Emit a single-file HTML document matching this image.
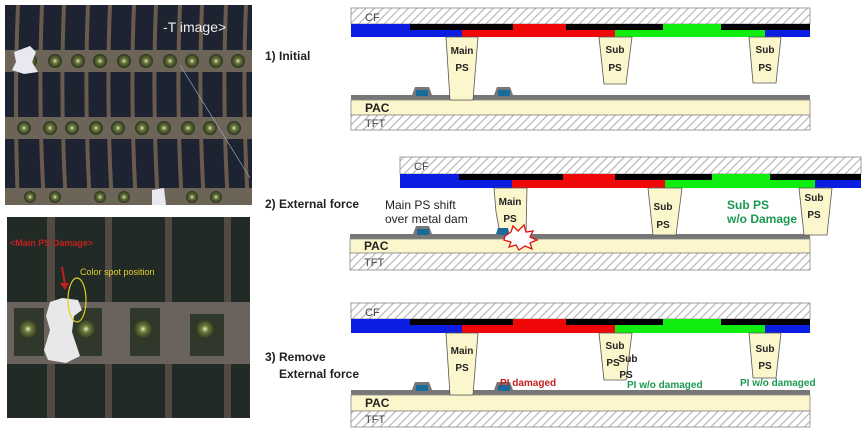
<!DOCTYPE html>
<html><head><meta charset="utf-8"><style>
html,body{margin:0;padding:0;background:#fff;}
svg{display:block;}
text{font-family:"Liberation Sans","DejaVu Sans",sans-serif;}
</style></head><body>
<svg width="865" height="447" viewBox="0 0 865 447" xmlns="http://www.w3.org/2000/svg">
<defs>
<pattern id="h" width="6" height="6" patternUnits="userSpaceOnUse" patternTransform="rotate(45)">
<rect width="6" height="6" fill="#fff"/><rect width="1.2" height="6" fill="#b8b8b8"/>
</pattern>
<radialGradient id="gd" cx="50%" cy="50%" r="50%"><stop offset="0" stop-color="#e8e8c0"/><stop offset="0.35" stop-color="#6a7a3a"/><stop offset="1" stop-color="#2a3020"/></radialGradient>
</defs>

<!-- top photo -->
<rect x="5" y="5" width="247" height="200" fill="#1d2330"/>
<g stroke="#6a5c4c" stroke-width="4" fill="none">
<path d="M18 5 Q14 100 18 205"/><path d="M42 5 Q38 100 44 205"/><path d="M64 5 Q60 100 66 205"/><path d="M88 5 Q84 100 90 205"/><path d="M110 5 Q106 100 112 205"/><path d="M134 5 Q130 100 136 205"/><path d="M156 5 Q152 100 158 205"/><path d="M180 5 Q176 100 182 205"/><path d="M202 5 Q198 100 204 205"/><path d="M226 5 Q222 100 228 205"/><path d="M246 5 Q242 100 248 205"/>
</g>
<g fill="#6d6458">
<rect x="5" y="50" width="247" height="22"/><rect x="5" y="117" width="247" height="22"/><rect x="5" y="188" width="247" height="17"/>
</g>
<g fill="url(#gd)">
<circle cx="30" cy="61" r="7"/><circle cx="55" cy="61" r="7"/><circle cx="78" cy="61" r="7"/><circle cx="100" cy="61" r="7"/><circle cx="124" cy="61" r="7"/><circle cx="146" cy="61" r="7"/><circle cx="170" cy="61" r="7"/><circle cx="192" cy="61" r="7"/><circle cx="216" cy="61" r="7"/><circle cx="238" cy="61" r="7"/>
<circle cx="24" cy="128" r="7"/><circle cx="50" cy="128" r="7"/><circle cx="72" cy="128" r="7"/><circle cx="96" cy="128" r="7"/><circle cx="118" cy="128" r="7"/><circle cx="142" cy="128" r="7"/><circle cx="164" cy="128" r="7"/><circle cx="188" cy="128" r="7"/><circle cx="210" cy="128" r="7"/><circle cx="234" cy="128" r="7"/>
<circle cx="30" cy="197" r="6"/><circle cx="55" cy="197" r="6"/><circle cx="100" cy="197" r="6"/><circle cx="124" cy="197" r="6"/><circle cx="192" cy="197" r="6"/><circle cx="216" cy="197" r="6"/>
</g>
<path d="M14 52 L30 46 L36 52 L32 62 L38 72 L24 74 L12 70 L16 62Z" fill="#e8e8f0"/>
<path d="M152 190 L164 188 L166 205 L152 205Z" fill="#e8e8f0"/>
<path d="M180 65 L250 178" stroke="#9ab" stroke-width="0.7"/>
<text x="163" y="32" fill="#eee" font-size="14">-T image&gt;</text>

<!-- bottom photo -->
<rect x="7" y="217" width="243" height="201" fill="#222a26"/>
<g fill="#514a42"><rect x="47" y="217" width="8" height="201"/><rect x="105" y="217" width="7" height="201"/><rect x="165" y="217" width="7" height="201"/><rect x="224" y="217" width="7" height="201"/></g>
<rect x="7" y="302" width="243" height="62" fill="#6a625c"/>
<g fill="#30382c"><rect x="14" y="308" width="30" height="48"/><rect x="72" y="308" width="30" height="48"/><rect x="130" y="308" width="30" height="48"/><rect x="190" y="314" width="34" height="42"/></g>
<g fill="url(#gd)"><circle cx="28" cy="329" r="10"/><circle cx="86" cy="329" r="10"/><circle cx="143" cy="329" r="10"/><circle cx="205" cy="329" r="10"/></g>
<path d="M50 302 L62 298 L78 300 L82 310 L74 316 L72 332 L80 356 L66 363 L48 360 L44 350 L50 330 L46 316Z" fill="#e8e8ea"/>
<ellipse cx="77" cy="300" rx="9" ry="22" fill="none" stroke="#e0d020" stroke-width="1.2"/>
<path d="M62 267 L65 285" stroke="#c02020" stroke-width="2"/><path d="M60 283 L65 290 L69 283Z" fill="#c02020"/>
<text x="10" y="246" fill="#c02020" font-size="9" font-weight="bold">&lt;Main PS Damage&gt;</text>
<text x="80" y="275" fill="#e0d030" font-size="9">Color spot position</text>

<!-- labels -->
<g font-size="12" font-weight="bold" fill="#222">
<text x="265" y="60">1) Initial</text>
<text x="265" y="208">2) External force</text>
<text x="265" y="361">3) Remove</text>
<text x="279" y="378">External force</text>
</g>

<!-- diagram 1 -->
<g>
<rect x="351" y="8" width="459" height="16" fill="url(#h)" stroke="#888" stroke-width="0.8"/>
<text x="365" y="21" font-size="11" fill="#444">CF</text>
<rect x="351" y="24" width="459" height="13" fill="#000"/>
<rect x="351" y="24" width="59" height="6" fill="#0a1de0"/><rect x="513" y="24" width="53" height="6" fill="#f00808"/><rect x="663" y="24" width="58" height="6" fill="#10ee10"/>
<rect x="351" y="30" width="111" height="7" fill="#0a1de0"/><rect x="462" y="30" width="153" height="7" fill="#f00808"/><rect x="615" y="30" width="150" height="7" fill="#10ee10"/><rect x="765" y="30" width="45" height="7" fill="#0a1de0"/>
<rect x="351" y="95" width="459" height="5" fill="#777"/>
<path d="M412 95 L415 87 L429 87 L432 95Z" fill="#777"/><rect x="416" y="90" width="12" height="6" fill="#1a6a9a"/>
<path d="M494 95 L497 87 L510 87 L513 95Z" fill="#777"/><rect x="498" y="90" width="12" height="6" fill="#1a6a9a"/>
<rect x="351" y="100" width="459" height="15" fill="#fcf6cc" stroke="#888" stroke-width="0.8"/>
<text x="365" y="112" font-size="12" font-weight="bold" fill="#222">PAC</text>
<rect x="351" y="115" width="459" height="15" fill="url(#h)" stroke="#888" stroke-width="0.8"/>
<text x="365" y="127" font-size="11" fill="#444">TFT</text>
<path d="M446 37 L478 37 L473 100 L450 100Z" fill="#fcf6cc" stroke="#555" stroke-width="0.8"/>
<path d="M599 37 L632 37 L626 84 L604 84Z" fill="#fcf6cc" stroke="#555" stroke-width="0.8"/>
<path d="M749 37 L781 37 L776 83 L753 83Z" fill="#fcf6cc" stroke="#555" stroke-width="0.8"/>
<g font-size="10" font-weight="bold" fill="#222" text-anchor="middle">
<text x="462" y="54">Main</text><text x="462" y="71">PS</text>
<text x="615" y="53">Sub</text><text x="615" y="71">PS</text>
<text x="765" y="53">Sub</text><text x="765" y="71">PS</text>
</g>
</g>

<!-- diagram 2 -->
<g>
<rect x="400" y="157" width="461" height="17" fill="url(#h)" stroke="#888" stroke-width="0.8"/>
<text x="414" y="170" font-size="11" fill="#444">CF</text>
<rect x="400" y="174" width="461" height="14" fill="#000"/>
<rect x="400" y="174" width="59" height="6" fill="#0a1de0"/><rect x="563" y="174" width="52" height="6" fill="#f00808"/><rect x="712" y="174" width="58" height="6" fill="#10ee10"/>
<rect x="400" y="180" width="112" height="8" fill="#0a1de0"/><rect x="512" y="180" width="153" height="8" fill="#f00808"/><rect x="665" y="180" width="150" height="8" fill="#10ee10"/><rect x="815" y="180" width="46" height="8" fill="#0a1de0"/>
<rect x="350" y="234" width="460" height="5" fill="#777"/>
<path d="M413 234 L416 226 L429 226 L432 234Z" fill="#777"/><rect x="417" y="229" width="12" height="6" fill="#1a6a9a"/>
<rect x="350" y="239" width="460" height="14" fill="#fcf6cc" stroke="#888" stroke-width="0.8"/>
<text x="364" y="250" font-size="12" font-weight="bold" fill="#222">PAC</text>
<rect x="350" y="253" width="460" height="17" fill="url(#h)" stroke="#888" stroke-width="0.8"/>
<text x="364" y="266" font-size="11" fill="#444">TFT</text>
<path d="M494 188 L527 188 L526 234 L500 234 L496 212Z" fill="#fcf6cc" stroke="#555" stroke-width="0.8"/>
<path d="M496 234 L498 228 L508 228 L510 236Z" fill="#1a6a9a"/>
<path d="M648 188 L682 188 L676 235 L653 235Z" fill="#fcf6cc" stroke="#555" stroke-width="0.8"/>
<path d="M799 188 L832 188 L827 235 L804 235Z" fill="#fcf6cc" stroke="#555" stroke-width="0.8"/>
<path d="M505 236 L511 232 L513 226 L518 231 L524 225 L526 232 L533 231 L530 237 L537 240 L530 243 L532 249 L525 246 L519 250 L516 245 L509 247 L511 242 L504 240Z" fill="#fff" stroke="#e01010" stroke-width="1.3"/>
<g font-size="10" font-weight="bold" fill="#222" text-anchor="middle">
<text x="510" y="205">Main</text><text x="510" y="222">PS</text>
<text x="663" y="210">Sub</text><text x="663" y="228">PS</text>
<text x="814" y="201">Sub</text><text x="814" y="218">PS</text>
</g>
<text x="385" y="209" font-size="12" fill="#222">Main PS shift</text>
<text x="385" y="223" font-size="12" fill="#222">over metal dam</text>
<text x="727" y="209" font-size="12" font-weight="bold" fill="#1a9a50">Sub PS</text>
<text x="727" y="223" font-size="12" font-weight="bold" fill="#1a9a50">w/o Damage</text>
</g>

<!-- diagram 3 -->
<g>
<rect x="351" y="303" width="459" height="16" fill="url(#h)" stroke="#888" stroke-width="0.8"/>
<text x="365" y="316" font-size="11" fill="#444">CF</text>
<rect x="351" y="319" width="459" height="14" fill="#000"/>
<rect x="351" y="319" width="59" height="6" fill="#0a1de0"/><rect x="513" y="319" width="53" height="6" fill="#f00808"/><rect x="663" y="319" width="58" height="6" fill="#10ee10"/>
<rect x="351" y="325" width="111" height="8" fill="#0a1de0"/><rect x="462" y="325" width="153" height="8" fill="#f00808"/><rect x="615" y="325" width="150" height="8" fill="#10ee10"/><rect x="765" y="325" width="45" height="8" fill="#0a1de0"/>
<rect x="351" y="390" width="459" height="5" fill="#777"/>
<path d="M412 390 L415 382 L429 382 L432 390Z" fill="#777"/><rect x="416" y="385" width="12" height="6" fill="#1a6a9a"/>
<path d="M494 390 L497 382 L510 382 L513 390Z" fill="#777"/><rect x="498" y="385" width="12" height="6" fill="#1a6a9a"/>
<rect x="351" y="395" width="459" height="16" fill="#fcf6cc" stroke="#888" stroke-width="0.8"/>
<text x="365" y="407" font-size="12" font-weight="bold" fill="#222">PAC</text>
<rect x="351" y="411" width="459" height="16" fill="url(#h)" stroke="#888" stroke-width="0.8"/>
<text x="365" y="423" font-size="11" fill="#444">TFT</text>
<path d="M446 333 L478 333 L473 395 L450 395Z" fill="#fcf6cc" stroke="#555" stroke-width="0.8"/>
<path d="M599 333 L632 333 L626 380 L604 380Z" fill="#fcf6cc" stroke="#555" stroke-width="0.8"/>
<path d="M749 333 L781 333 L776 378 L753 378Z" fill="#fcf6cc" stroke="#555" stroke-width="0.8"/>
<g font-size="10" font-weight="bold" fill="#222" text-anchor="middle">
<text x="462" y="354">Main</text><text x="462" y="371">PS</text>
<text x="615" y="349">Sub</text><text x="613" y="366">PS</text><text x="628" y="362">Sub</text><text x="626" y="378">PS</text>
<text x="765" y="352">Sub</text><text x="765" y="369">PS</text>
</g>
<text x="500" y="386" font-size="10" font-weight="bold" fill="#c81e1e">PI damaged</text>
<text x="627" y="388" font-size="10" font-weight="bold" fill="#1a9a50">PI w/o damaged</text>
<text x="740" y="386" font-size="10" font-weight="bold" fill="#1a9a50">PI w/o damaged</text>
</g>
</svg>
</body></html>
